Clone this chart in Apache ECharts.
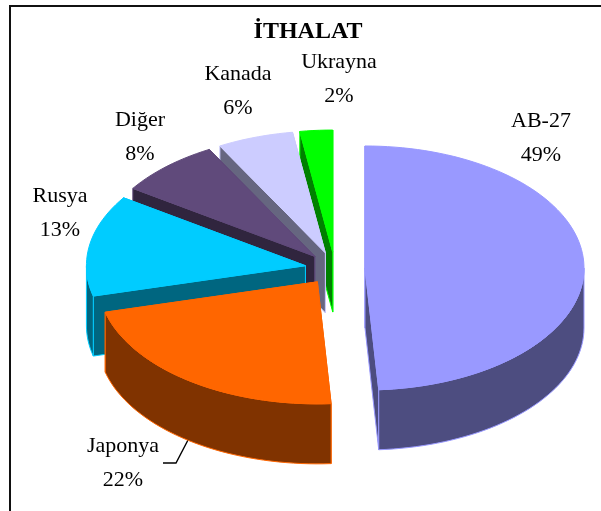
<!DOCTYPE html>
<html><head><meta charset="utf-8">
<style>html,body{margin:0;padding:0;background:#fff}#c{width:601px;height:511px}</style>
<script src="https://cdn.jsdelivr.net/npm/echarts@6/dist/echarts.min.js"></script>
</head><body><div id="c"></div>
<script>
// Data
const title = 'İTHALAT';
const categories = ['AB-27', 'Japonya', 'Rusya', 'Diğer', 'Kanada', 'Ukrayna'];
const values = [49, 22, 13.4, 7.6, 5.6, 2.4];

// Styles and layout
const topColors = ['#9999FF', '#FF6600', '#00CCFF', '#604A7B', '#CCCCFF', '#00FF00'];
const wallColors = ['#4D4D80', '#803300', '#006680', '#30253E', '#666680', '#008000'];
const labelAnchors = [[541, 138], [123, 463], [60, 213], [140, 137], [238, 91], [339, 79]];
const PIE = { cx: 335, cy: 268.5, rx: 219, ry: 122, depth: 60, explode: 30, explodeY: 0.55 };
const FONT = '"Liberation Serif","Times New Roman",serif';

const total = values.reduce((a, b) => a + b, 0);
let run = 0;
const rows = values.map((v, i) => { const r = [i, run, v]; run += v; return r; });
// painter's order: back slices first
const drawRows = rows.slice().reverse();

const pt = (o, deg, dy) => {
  const t = deg * Math.PI / 180;
  return [o[0] + PIE.rx * Math.sin(t), o[1] - PIE.ry * Math.cos(t) + (dy || 0)];
};
const arc = (o, a, b, dy) => {
  const out = [], n = Math.max(2, Math.ceil(Math.abs(b - a) / 2));
  for (let k = 0; k <= n; k++) out.push(pt(o, a + (b - a) * k / n, dy));
  return out;
};

function renderItem(params, api) {
  const i = api.value(0);
  const a = api.value(1) / total * 360, b = (api.value(1) + api.value(2)) / total * 360;
  const m = (a + b) / 2 * Math.PI / 180;
  const o = [PIE.cx + PIE.explode * Math.sin(m), PIE.cy - PIE.explode * PIE.explodeY * Math.cos(m)];
  const d = PIE.depth;
  const wallStyle = { fill: wallColors[i], stroke: topColors[i], lineWidth: 1 };
  const poly = (points, style) => ({ type: 'polygon', shape: { points }, style });
  const children = [];
  // the radial wall nearer the viewer is painted last
  const ends = pt(o, a)[1] > pt(o, b)[1] ? [b, a] : [a, b];
  ends.forEach(t => {
    const r = pt(o, t);
    children.push(poly([o, r, [r[0], r[1] + d], [o[0], o[1] + d]], wallStyle));
  });
  const fa = Math.max(a, 90), fb = Math.min(b, 270);
  if (fb > fa) {
    children.push(poly(arc(o, fa, fb, 0).concat(arc(o, fb, fa, d)), wallStyle));
  }
  children.push(poly([o].concat(arc(o, a, b, 0)), { fill: topColors[i], stroke: topColors[i], lineWidth: 1 }));
  return { type: 'group', children };
}

const labelText = categories.map((c, i) => c + '\n' + Math.round(values[i]) + '%');

const chart = echarts.init(document.getElementById('c'), null, { renderer: 'canvas' });
chart.setOption({
  animation: false,
  backgroundColor: '#fff',
  title: {
    text: title, left: 303, top: 15, textAlign: 'center',
    textStyle: { fontFamily: FONT, fontWeight: 'bold', fontSize: 24, color: '#000' }
  },
  graphic: [
    { type: 'polyline', shape: { points: [[10, 511], [10, 6], [601, 6]] }, style: { stroke: '#111', lineWidth: 2, fill: null } },
    { type: 'polyline', shape: { points: [[163, 463], [176, 463], [188, 440]] }, style: { stroke: '#000', lineWidth: 1.4, fill: null } }
  ].concat(labelText.map((t, i) => ({
    type: 'text', x: labelAnchors[i][0], y: labelAnchors[i][1], z: 10,
    style: { text: t, fontFamily: FONT, fontSize: 22, lineHeight: 34, fill: '#000', align: 'center', verticalAlign: 'middle' }
  }))),
  series: [{
    type: 'custom', coordinateSystem: 'none', silent: true,
    renderItem, data: drawRows, clip: false
  }]
});
</script></body></html>
